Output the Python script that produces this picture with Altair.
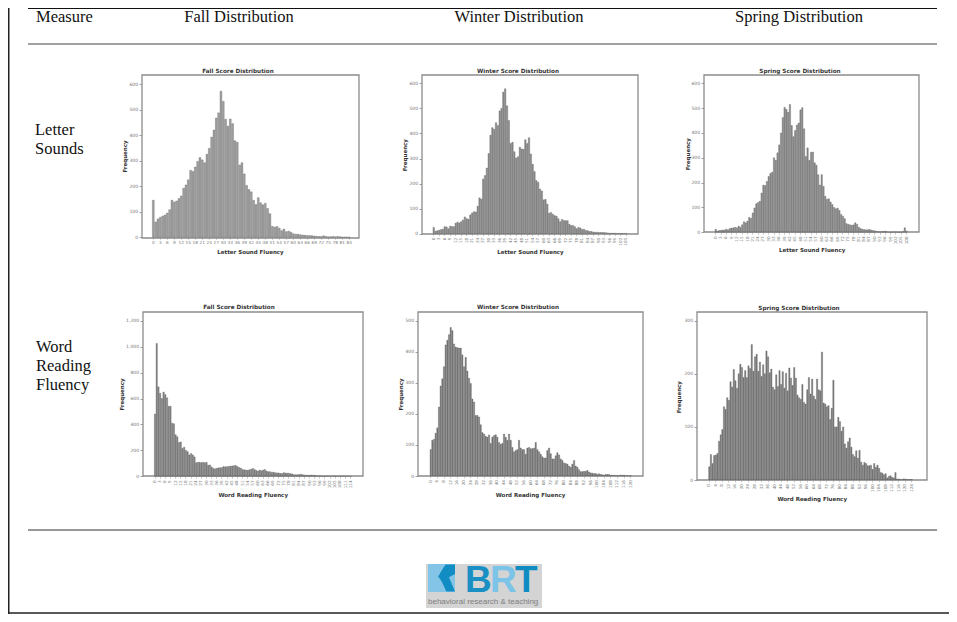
import altair as alt
import pandas as pd

LS_FALL = [145,60,72,78,83,87,95,108,145,138,142,152,162,192,205,225,262,258,275,297,312,303,292,325,348,392,420,467,487,572,532,462,435,463,445,378,372,283,292,248,203,187,178,145,128,155,135,127,133,113,92,43,40,42,36,26,32,22,24,20,14,12,12,10,9,8,7,7,6,5,4,3,3,6,3,2,2,3,2,3,2,1,1,1,1]
LS_WINTER = [25,10,12,14,17,18,28,27,20,30,29,28,42,46,43,48,55,67,60,58,75,83,88,87,110,143,138,218,232,262,320,393,423,417,443,432,490,500,565,578,510,452,360,365,327,302,307,345,338,337,375,360,383,318,277,248,212,205,178,170,135,137,118,82,85,78,72,70,60,48,57,53,52,52,38,33,33,28,20,25,23,17,18,13,12,9,9,7,6,6,5,5,5,5,4,3,2,2,2,2,1,1,1,1,1,1]
LS_SPRING = [12,5,7,8,9,9,12,10,15,17,18,20,18,25,20,30,42,38,45,60,57,78,98,115,120,125,158,190,188,205,225,237,242,300,290,320,352,400,462,503,495,483,515,430,385,410,432,440,493,502,417,305,340,290,322,323,280,270,232,190,232,185,145,133,135,122,112,100,95,97,88,72,65,55,35,32,30,28,30,38,32,20,15,12,11,10,10,12,9,7,6,4,3,2,3,3,5,2,1,1,1,2,1,1,1,1,3,18,5]
WR_FALL = [480,1025,690,640,600,650,630,605,540,540,410,405,320,305,260,265,215,225,200,190,165,175,165,150,105,108,108,105,108,105,108,85,88,72,60,58,62,65,66,68,75,72,75,76,78,80,82,84,75,68,62,52,50,48,47,50,55,60,52,45,40,48,42,48,52,40,35,36,30,32,28,26,26,22,22,28,25,24,24,20,18,12,12,12,13,15,12,10,8,8,7,10,8,7,4,3,4,2,2,2,3,1,1,1,1,2,1,1,1,3,1,1,1,1,1]
WR_WINTER = [85,115,118,138,155,222,290,313,352,422,437,455,478,468,425,415,413,412,412,390,352,382,338,315,298,248,238,195,195,190,165,140,135,128,125,132,105,125,130,133,125,108,102,105,135,125,115,135,115,92,78,82,85,115,90,85,85,70,90,92,88,88,90,108,85,78,70,62,58,58,82,90,72,55,55,65,75,68,55,50,42,40,38,32,28,38,50,32,28,20,14,14,15,15,18,13,10,9,8,8,5,7,5,4,3,5,5,5,2,2,2,1,2,1,3,2,3,1,1,1,1]
WR_SPRING = [25,48,31,46,47,50,73,85,95,138,133,155,150,185,175,208,187,173,200,218,212,193,206,193,215,210,255,205,232,237,205,222,195,217,200,243,232,202,209,175,170,198,176,206,180,204,173,201,168,211,192,178,212,192,160,155,152,180,146,143,170,193,162,190,158,152,190,170,168,241,145,143,138,140,114,135,188,100,100,118,110,92,100,68,60,72,79,62,48,44,55,41,56,34,28,33,31,27,27,28,20,31,24,28,22,14,13,10,12,4,7,8,5,4,14,2,2,1,1,2,2,1,1,1,1]

HEADERS = [("Measure", 36, 17, "left"), ("Fall Distribution", 239, 17, "center"),
           ("Winter Distribution", 519, 17, "center"), ("Spring Distribution", 799, 17, "center"),
           ("Letter", 35, 130, "left"), ("Sounds", 35, 149, "left"),
           ("Word", 36, 347, "left"), ("Reading", 36, 366, "left"), ("Fluency", 36, 385, "left")]

PANELS = [
 dict(v=LS_FALL, fill="#a2a2a2", title="Fall Score Distribution", xt="Letter Sound Fluency", frame=(142,75,359,238), x0=153.3, step=2.333, y0=237.3, ytop=84, ymax=600, ticks=list(range(0,601,100)), every=3, angle=0, tx=238, ty=71, xx=250, xy=251.7, yx=124.3, yy=156),
 dict(v=LS_WINTER, fill="#8e8e8e", title="Winter Score Distribution", xt="Letter Sound Fluency", frame=(422,75,638,234), x0=433.7, step=1.833, y0=233.7, ytop=83.3, ymax=600, ticks=list(range(0,601,100)), every=3, angle=270, tx=518, ty=71, xx=530, xy=251, yx=404.7, yy=154.7),
 dict(v=LS_SPRING, fill="#8e8e8e", title="Spring Score Distribution", xt="Letter Sound Fluency", frame=(704,75,919,232), x0=715.7, step=1.767, y0=232.3, ytop=83.3, ymax=600, ticks=list(range(0,601,100)), every=3, angle=270, tx=800, ty=71, xx=811.7, xy=249.3, yx=687.3, yy=153.7),
 dict(v=WR_FALL, fill="#858585", title="Fall Score Distribution", xt="Word Reading Fluency", frame=(143,312,363,476), x0=155, step=1.717, y0=476.3, ytop=320.7, ymax=1200, ticks=list(range(0,1201,200)), every=3, angle=270, tx=239, ty=307, xx=252.7, xy=494.7, yx=121, yy=394),
 dict(v=WR_WINTER, fill="#7c7c7c", title="Winter Score Distribution", xt="Word Reading Fluency", frame=(418,312,643,476), x0=430.7, step=1.667, y0=476, ytop=320.7, ymax=500, ticks=list(range(0,501,100)), every=4, angle=270, tx=518, ty=307, xx=530, xy=494.3, yx=400.7, yy=394),
 dict(v=WR_SPRING, fill="#7c7c7c", title="Spring Score Distribution", xt="Word Reading Fluency", frame=(697,312,927,480), x0=709.3, step=1.633, y0=480, ytop=320.7, ymax=300, ticks=list(range(0,301,100)), every=4, angle=270, tx=799, ty=307.5, xx=811.7, xy=498.7, yx=678.7, yy=396.7),
]

W, H, M = 941, 606, 8
one = pd.DataFrame({"k": [0]})
layers = []


def rule(x1, x2, y, color, sw):
    return alt.Chart(one).mark_rule(color=color, strokeWidth=sw).encode(
        x=alt.value(x1 - M), x2=alt.value(x2 - M), y=alt.value(y - M))


def text(t, x, y, size, font, color="black", align="left", weight="normal", baseline="middle"):
    return alt.Chart(one).mark_text(text=t, fontSize=size, font=font, color=color, align=align,
                                    fontWeight=weight, baseline=baseline).encode(
        x=alt.value(x - M), y=alt.value(y - M))


# page furniture
layers += [rule(28, 937, 8.5, "#111", 1.2), rule(28, 937, 44, "#444", 1.2), rule(28, 937, 530, "#333", 1.2)]
layers.append(alt.Chart(one).mark_rule(color="#222", strokeWidth=1.5).encode(
    x=alt.value(0.75), y=alt.value(0), y2=alt.value(H)))
layers.append(rule(8, 949, 613, "#222", 1.5))
for t, x, y, a in HEADERS:
    layers.append(text(t, x, y, 16.5, "Liberation Serif", "#111", a))

# histograms
for p in PANELS:
    fx0, fy0, fx1, fy1 = p["frame"]
    layers.append(alt.Chart(one).mark_rect(fill="white", stroke="#8c8c8c", strokeWidth=1.3).encode(
        x=alt.value(fx0 - M), x2=alt.value(fx1 - M), y=alt.value(fy0 - M), y2=alt.value(fy1 - M)))
    df = pd.DataFrame({"score": list(range(len(p["v"]))), "count": p["v"]})
    a = p["x0"] - p["step"] / 2 - M
    b = a + p["step"] * len(p["v"])
    bars = alt.Chart(df).mark_bar(color=p["fill"], stroke="#5c5c5c", strokeWidth=0.35).encode(
        x=alt.X("score:O",
                scale=alt.Scale(range=[a, b], paddingInner=0.22, paddingOuter=0.11),
                axis=alt.Axis(orient="bottom", offset=p["y0"] - M - H, title=p["xt"],
                              titleFont="DejaVu Sans", titleFontSize=5.5, titleFontWeight="bold",
                              titleColor="#333", titleX=p["xx"] - M, titleY=p["xy"] - p["y0"],
                              titleBaseline="middle", titleAlign="center", titleAnchor="middle",
                              values=list(range(0, len(p["v"]), p["every"])),
                              labelAngle=p["angle"], labelFontSize=4.2, labelColor="#777",
                              labelFont="DejaVu Sans", labelPadding=1.5, labelOverlap=False,
                              labelBound=False, labelFlush=False,
                              domain=False, grid=False, tickSize=2, tickColor="#999", tickWidth=0.5)),
        y=alt.Y("count:Q",
                scale=alt.Scale(domain=[0, p["ymax"]], range=[p["y0"] - M, p["ytop"] - M], nice=False, zero=True),
                axis=alt.Axis(orient="left", offset=-(fx0 - M), title="Frequency",
                              titleFont="DejaVu Sans", titleFontSize=5.5, titleFontWeight="bold",
                              titleColor="#333", titleX=p["yx"] - fx0, titleY=p["yy"] - M,
                              titleAngle=270, titleBaseline="middle", titleAlign="center",
                              titleAnchor="middle", values=p["ticks"], format=",d",
                              labelFontSize=4.5, labelColor="#777", labelFont="DejaVu Sans",
                              labelPadding=1.5, labelOverlap=False, labelBound=False, labelFlush=False,
                              domain=False, grid=False, tickSize=3, tickColor="#777", tickWidth=0.7)),
    )
    layers.append(bars)
    layers.append(text(p["title"], p["tx"], p["ty"], 5.7, "DejaVu Sans", "#333", "center", "bold"))

# BRT logo
layers.append(alt.Chart(one).mark_rect(fill="#d4d4d4").encode(
    x=alt.value(426 - M), x2=alt.value(542 - M), y=alt.value(564 - M), y2=alt.value(608 - M)))
layers.append(alt.Chart(one).mark_rect(fill="#84c4e6").encode(
    x=alt.value(428 - M), x2=alt.value(455 - M), y=alt.value(564 - M), y2=alt.value(592 - M)))
WAVE = "M0.3,-1 L1,-1 L1,-0.3 L0.55,-0.05 L1,1 L0.35,1 Q0.0,0.1 -0.25,-0.1 Q0.0,-0.55 0.3,-1 Z"
layers.append(alt.Chart(one).mark_point(shape=WAVE, filled=True, size=729, color="#128dc4", opacity=1).encode(
    x=alt.value(441.5 - M), y=alt.value(578 - M)))
for t, x, c in [("B", 465, "#1a8fc4"), ("R", 490, "#7cc3e8"), ("T", 515, "#0f8dc3")]:
    layers.append(text(t, x, 592, 37, "Liberation Sans", c, "left", "bold", "alphabetic"))
layers.append(text("behavioral research & teaching", 428, 602, 8, "Liberation Sans", "#7d7d7d"))

chart = alt.layer(*layers).resolve_scale(x="independent", y="independent").resolve_axis(
    x="independent", y="independent"
).properties(width=W, height=H, padding=0, autosize=alt.AutoSizeParams(type="none"), background="white"
).configure_view(stroke=None)

chart.save("out.html", embed_options={"renderer": "svg", "actions": False})
